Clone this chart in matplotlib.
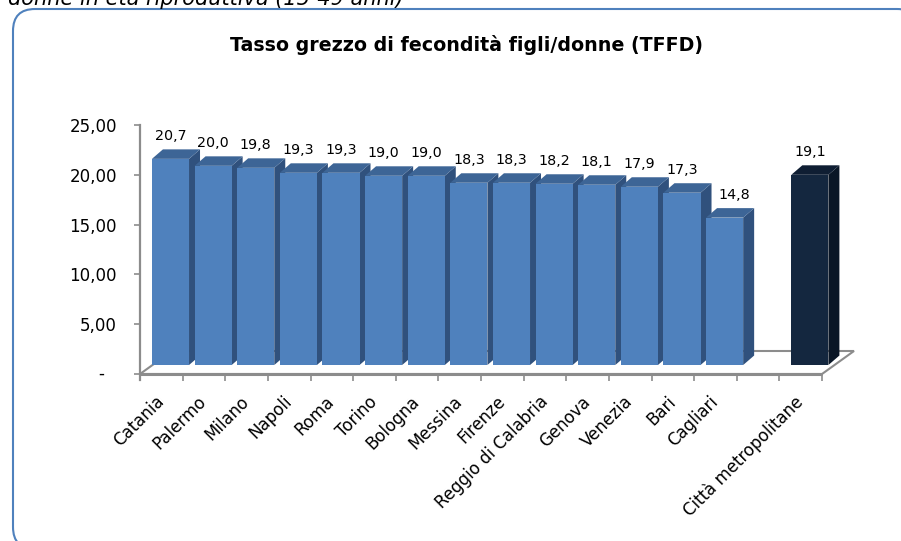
import matplotlib
matplotlib.use("Agg")
import matplotlib.pyplot as plt
from matplotlib.patches import FancyBboxPatch, Polygon
from matplotlib import transforms
import numpy as np

plt.rcParams['font.family'] = ['DejaVu Sans']

# ---- data ----
categories = ["Catania", "Palermo", "Milano", "Napoli", "Roma", "Torino", "Bologna",
              "Messina", "Firenze", "Reggio di Calabria", "Genova", "Venezia", "Bari",
              "Cagliari", "", "Città metropolitane"]
values = [20.7, 20.0, 19.8, 19.3, 19.3, 19.0, 19.0, 18.3, 18.3, 18.2, 18.1, 17.9, 17.3,
          14.8, None, 19.1]
value_labels = ["20,7", "20,0", "19,8", "19,3", "19,3", "19,0", "19,0", "18,3", "18,3",
                "18,2", "18,1", "17,9", "17,3", "14,8", "", "19,1"]
y_ticks = [0, 5, 10, 15, 20, 25]
y_tick_labels = ["", "5,00", "10,00", "15,00", "20,00", "25,00"]
title = "Tasso grezzo di fecondità figli/donne (TFFD)"
top_text = "donne in età riproduttiva (15-49 anni)"

# ---- styles ----
W, H = 901, 541
PX_PER_UNIT = 9.96
CAT_PX = 682 / 16
blue_front, blue_top, blue_side = "#4F81BD", "#3D6596", "#30517D"
dark_front, dark_top, dark_side = "#14273F", "#0F1E33", "#0A1626"
axis_gray = "#8C8C8C"

fig = plt.figure(figsize=(W / 100, H / 100), dpi=100)

# background layer in pixel coordinates
bg = fig.add_axes([0, 0, 1, 1])
bg.set_xlim(0, W)
bg.set_ylim(H, 0)
bg.axis('off')
bg.add_patch(FancyBboxPatch((13, 9), 906, 540, boxstyle="round,pad=0,rounding_size=22",
                            fc="white", ec="#4F81BD", lw=1.5))
bg.text(8, 5, top_text, style='italic', fontsize=15, va='baseline', ha='left', color='black')
bg.text(466, 51, title, ha='center', va='baseline', fontsize=13.7, weight='bold')

# chart axes
ax = fig.add_axes([140 / W, (H - 374) / H, 682 / W, 274 / H])
ax.patch.set_alpha(0)
ax.set_xlim(0, 16)
ax.set_ylim(0, 274 / PX_PER_UNIT)

# depth parameters (data units)
bar_dx = 11 / CAT_PX
bar_dy = 9.5 / PX_PER_UNIT
base = 0.9
shift = 0.215
width = 0.87
floor_dx = 32 / CAT_PX
floor_dy = 23 / PX_PER_UNIT

# floor
floor = Polygon([(0, 0), (16, 0), (16 + floor_dx, floor_dy), (floor_dx, floor_dy)],
                closed=True, fc='white', ec=axis_gray, lw=1.5, zorder=1, clip_on=False)
ax.add_patch(floor)
ax.plot([0, 16], [0, 0], color=axis_gray, lw=2.2, zorder=1.5, clip_on=False,
        solid_capstyle='butt')

x = np.arange(len(categories))
for i, v in enumerate(values):
    if v is None:
        continue
    dark = categories[i] == "Città metropolitane"
    fc, tc, sc = (dark_front, dark_top, dark_side) if dark else (blue_front, blue_top, blue_side)
    z = 3 + i * 0.1
    cx = x[i] + 0.5 + shift
    l, r = cx - width / 2, cx + width / 2
    top = base + v
    side = Polygon([(r, base), (r + bar_dx, base + bar_dy), (r + bar_dx, top + bar_dy), (r, top)],
                   closed=True, fc=sc, ec='none', zorder=z, clip_on=False)
    topf = Polygon([(l, top), (r, top), (r + bar_dx, top + bar_dy), (l + bar_dx, top + bar_dy)],
                   closed=True, fc=tc, ec='none', zorder=z, clip_on=False)
    ax.add_patch(side)
    ax.add_patch(topf)
    ax.bar([cx], [v], bottom=base, width=width, color=fc, zorder=z + 0.05,
           clip_on=False, linewidth=0)
    lx = cx + (0.23 if categories[i] == "Cagliari" else 0.0)
    ax.text(lx, top + bar_dy + 9 / PX_PER_UNIT, value_labels[i], ha='center',
            va='baseline', fontsize=10.3, zorder=10)

# axes styling
for s in ['top', 'right', 'bottom']:
    ax.spines[s].set_visible(False)
ax.spines['left'].set_color(axis_gray)
ax.spines['left'].set_linewidth(1.6)
ax.spines['left'].set_bounds(-0.6, 25)

ax.set_yticks(y_ticks)
ax.set_yticklabels(y_tick_labels, fontsize=12)
ax.tick_params(axis='y', length=4.5, width=1.2, color=axis_gray, pad=12)

ax.set_xticks(x + 0.5)
ax.set_xticklabels(categories, fontsize=12)
ax.set_xticks(np.arange(17), minor=True)
ax.tick_params(axis='x', which='major', length=0, pad=18)
ax.tick_params(axis='x', which='minor', length=5, width=1.2, color=axis_gray)
plt.setp(ax.get_xticklabels(), rotation=45, ha='right', va='center', rotation_mode='anchor')

# zero label in accounting style
off = transforms.offset_copy(ax.get_yaxis_transform(), fig=fig, x=-36, y=0, units='dots')
ax.text(0, 0, "-", transform=off, ha='right', va='center', fontsize=12)

fig.savefig("out.png", dpi=100)
